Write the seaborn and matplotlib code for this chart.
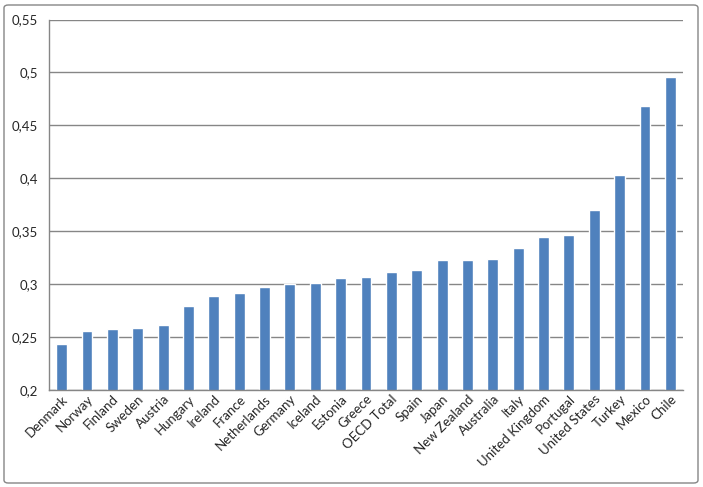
"""
Income inequality (Gini) by OECD country, Excel-style bar chart
"""
import matplotlib
matplotlib.use('Agg')
import matplotlib.pyplot as plt
from matplotlib.patches import FancyBboxPatch
from matplotlib.ticker import FuncFormatter, FixedLocator
import seaborn as sns
import pandas as pd
import numpy as np

countries = ['Denmark', 'Norway', 'Finland', 'Sweden', 'Austria', 'Hungary',
             'Ireland', 'France', 'Netherlands', 'Germany', 'Iceland', 'Estonia',
             'Greece', 'OECD Total', 'Spain', 'Japan', 'New Zealand', 'Australia',
             'Italy', 'United Kingdom', 'Portugal', 'United States', 'Turkey',
             'Mexico', 'Chile']
gini = [0.243, 0.256, 0.258, 0.259, 0.261, 0.279,
        0.289, 0.292, 0.297, 0.300, 0.301, 0.306,
        0.307, 0.311, 0.313, 0.323, 0.323, 0.324,
        0.334, 0.345, 0.346, 0.370, 0.403,
        0.468, 0.496]
y_ticks = [0.2, 0.25, 0.3, 0.35, 0.4, 0.45, 0.5, 0.55]

df = pd.DataFrame({'country': countries, 'gini': gini})

sns.set_style('white')
plt.rcParams['font.family'] = ['Lato', 'DejaVu Sans']

fig = plt.figure(figsize=(7.03, 4.87), dpi=100)
ax = fig.add_axes([49 / 703, 1 - 390 / 487, 634 / 703, 370.5 / 487])

sns.barplot(data=df, x='country', y='gini', order=countries, color='#4F81BD',
            saturation=1, width=0.43, ax=ax)

# axes styling like Excel
ax.set_ylim(0.2, 0.55)
ax.set_xlim(-0.5, len(countries) - 0.5)
ax.yaxis.set_major_locator(FixedLocator(y_ticks))
ax.yaxis.set_major_formatter(FuncFormatter(lambda v, p: f'{v:g}'.replace('.', ',')))
ax.grid(True, axis='y', color='#868686', linewidth=1)
ax.set_axisbelow(True)
ax.set_xlabel('')
ax.set_ylabel('')

for side in ['top', 'right']:
    ax.spines[side].set_visible(False)
for side in ['left', 'bottom']:
    ax.spines[side].set_color('#868686')
    ax.spines[side].set_linewidth(1)

ax.tick_params(axis='y', length=5, color='#868686', labelsize=9.5, pad=3)
ax.tick_params(axis='x', which='major', length=0, labelsize=9.5, pad=2)
ax.set_xticks(np.arange(-0.5, len(countries)), minor=True)
ax.tick_params(axis='x', which='minor', length=5, color='#868686', direction='out')
plt.setp(ax.get_xticklabels(), rotation=45, ha='right', rotation_mode='anchor')

# outer chart border
border = FancyBboxPatch((4 / 703, 4 / 487), 694 / 703, 478 / 487,
                        boxstyle='round,pad=0,rounding_size=0.006',
                        transform=fig.transFigure, fill=False,
                        edgecolor='#868686', linewidth=1)
fig.patches.append(border)

fig.savefig('out.png', dpi=100)
plt.close()
